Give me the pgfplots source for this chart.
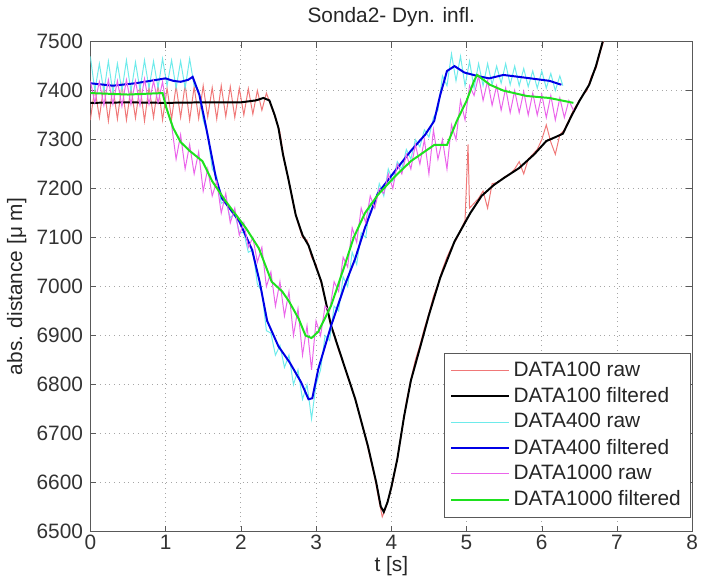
\documentclass[border=0pt]{standalone}
\usepackage{pgfplots}
\pgfplotsset{compat=1.18}
\usepackage{fontspec}
\setmainfont{Liberation Sans}
\definecolor{rawred}{RGB}{240,120,120}
\definecolor{rawcyan}{RGB}{110,235,235}
\definecolor{rawmag}{RGB}{235,100,235}
\definecolor{filgreen}{RGB}{30,225,30}
\definecolor{filblue}{RGB}{0,0,230}
\begin{document}
\fontsize{10.5}{12.5}\selectfont
\begin{tikzpicture}
\begin{axis}[
  scale only axis,
  width=303.5pt, height=247pt,
  xmin=0, xmax=8, ymin=6500, ymax=7500,
  xtick={0,1,...,8}, ytick={6500,6600,...,7500},
  /pgf/number format/assume math mode=true,
  /pgf/number format/1000 sep={},
  ticklabel style={font=\fontsize{10.5}{12.5}\selectfont, text=black!80},
  xticklabel style={yshift=2pt},
  tick align=inside, major tick length=3pt,
  tick style={gray!70!black},
  axis line style={gray!70!black, line width=0.5pt},
  grid=major,
  major grid style={dotted, gray!70, line width=0.4pt},
  title={Sonda2- Dyn. infl.},
  title style={font=\fontsize{10.5}{12.5}\selectfont, text=black!85, yshift=-2pt},
  xlabel={t [s]}, ylabel={abs. distance [μ m]},
  label style={font=\fontsize{10.5}{12.5}\selectfont, text=black!85},
  xlabel style={yshift=4pt}, ylabel style={yshift=-2pt},
  legend style={at={(0.998,0.029)}, anchor=south east, draw=gray!70!black,
    font=\fontsize{10.5}{12.5}\selectfont, text=black!85, row sep=0pt, inner xsep=3pt, inner ysep=2pt},
  legend cell align=left,
  legend image code/.code={\draw[#1] (0pt,0pt) -- (29pt,0pt);},
]
\addplot[rawred, line width=0.5pt] coordinates {
(0.00,7340)(0.06,7405)(0.12,7345)(0.18,7410)(0.24,7338)(0.30,7408)(0.36,7342)(0.42,7412)
(0.48,7340)(0.54,7406)(0.60,7344)(0.66,7410)(0.72,7338)(0.78,7408)(0.84,7345)(0.90,7412)
(0.96,7340)(1.02,7405)(1.08,7342)(1.14,7410)(1.20,7345)(1.26,7412)(1.32,7340)(1.38,7408)
(1.44,7343)(1.50,7410)(1.56,7346)(1.62,7406)(1.68,7342)(1.74,7410)(1.80,7347)(1.86,7408)
(1.92,7345)(1.98,7405)(2.04,7350)(2.10,7404)(2.16,7352)(2.22,7400)(2.28,7360)(2.34,7395)
(2.40,7370)(2.46,7345)(2.52,7315)(2.58,7255)(2.64,7215)(2.70,7165)(2.76,7130)(2.82,7100)
(2.88,7095)(2.94,7060)(3.00,7045)(3.06,7012)(3.12,6975)(3.18,6930)(3.24,6905)(3.30,6870)
(3.36,6845)(3.42,6815)(3.48,6790)(3.54,6760)(3.60,6725)(3.66,6690)(3.72,6650)(3.78,6610)
(3.84,6560)(3.88,6530)(3.92,6545)(3.96,6565)(4.02,6600)(4.08,6650)(4.14,6705)(4.20,6765)
(4.26,6810)(4.32,6850)(4.38,6880)(4.44,6915)(4.50,6945)(4.56,6980)(4.62,7005)(4.68,7035)
(4.74,7060)(4.80,7080)(4.86,7095)(4.92,7115)(4.98,7135)(5.02,7290)(5.04,7160)(5.10,7170)
(5.16,7180)(5.22,7195)(5.28,7160)(5.34,7210)(5.40,7212)(5.46,7218)(5.52,7225)(5.58,7230)
(5.64,7240)(5.70,7255)(5.76,7230)(5.82,7260)(5.88,7270)(5.94,7280)(6.00,7300)(6.06,7330)
(6.12,7295)(6.18,7270)(6.24,7310)(6.30,7320)(6.36,7340)(6.42,7360)(6.48,7375)(6.54,7390)
(6.60,7400)(6.66,7430)(6.72,7445)(6.78,7480)(6.82,7500)
};
\addlegendentry{DATA100 raw}
\addplot[black, line width=1pt] coordinates {
(0,7375)(0.5,7376)(1.0,7375)(1.5,7376)(2.0,7376)(2.2,7380)(2.3,7385)(2.38,7380)(2.45,7350)
(2.5,7324)(2.56,7270)(2.63,7221)(2.73,7146)(2.82,7105)(2.9,7084)(3.0,7040)(3.07,7010)
(3.2,6920)(3.35,6850)(3.52,6771)(3.69,6674)(3.8,6600)(3.86,6551)(3.9,6540)(3.95,6560)
(4.0,6590)(4.08,6648)(4.17,6735)(4.26,6808)(4.39,6880)(4.5,6942)(4.65,7018)(4.84,7092)
(5.05,7150)(5.2,7185)(5.36,7207)(5.5,7222)(5.7,7242)(5.9,7270)(6.06,7297)(6.18,7305)
(6.28,7312)(6.4,7350)(6.5,7379)(6.63,7412)(6.72,7450)(6.81,7500)
};
\addlegendentry{DATA100 filtered}
\addplot[rawcyan, line width=0.5pt] coordinates {
(0.00,7470)(0.06,7400)(0.12,7455)(0.18,7398)(0.24,7460)(0.30,7395)(0.36,7455)(0.42,7400)
(0.48,7462)(0.54,7398)(0.60,7458)(0.66,7402)(0.72,7462)(0.78,7405)(0.84,7460)(0.90,7405)
(0.96,7465)(1.02,7410)(1.08,7462)(1.14,7405)(1.20,7460)(1.26,7405)(1.32,7465)(1.38,7410)
(1.44,7400)(1.50,7340)(1.56,7310)(1.62,7240)(1.68,7225)(1.74,7170)(1.80,7175)(1.86,7140)
(1.92,7150)(1.98,7110)(2.04,7110)(2.10,7070)(2.16,7075)(2.22,7005)(2.28,6990)(2.34,6910)
(2.40,6905)(2.46,6860)(2.52,6880)(2.58,6835)(2.64,6860)(2.70,6800)(2.76,6830)(2.82,6770)
(2.88,6800)(2.94,6730)(3.00,6800)(3.06,6830)(3.12,6900)(3.18,6890)(3.24,6960)(3.30,6950)
(3.36,7020)(3.42,7000)(3.48,7070)(3.54,7045)(3.60,7110)(3.66,7100)(3.72,7170)(3.78,7160)
(3.84,7210)(3.90,7185)(3.96,7240)(4.02,7215)(4.08,7255)(4.14,7240)(4.20,7280)(4.26,7260)
(4.32,7300)(4.38,7285)(4.44,7320)(4.50,7305)(4.56,7345)(4.62,7360)(4.68,7430)(4.74,7410)
(4.80,7475)(4.86,7420)(4.92,7470)(4.98,7410)(5.04,7460)(5.10,7405)(5.16,7455)(5.22,7410)
(5.28,7455)(5.34,7412)(5.40,7450)(5.46,7415)(5.52,7455)(5.58,7412)(5.64,7450)(5.70,7410)
(5.76,7445)(5.82,7408)(5.88,7440)(5.94,7405)(6.00,7440)(6.06,7405)(6.12,7435)(6.18,7400)
(6.24,7430)(6.28,7410)
};
\addlegendentry{DATA400 raw}
\addplot[filblue, line width=1pt] coordinates {
(0,7415)(0.3,7410)(0.6,7415)(0.8,7420)(1.0,7425)(1.1,7420)(1.2,7418)(1.3,7422)(1.36,7428)
(1.45,7391)(1.54,7324)(1.67,7221)(1.75,7180)(1.85,7160)(1.98,7133)(2.15,7075)(2.25,7010)
(2.35,6930)(2.5,6878)(2.65,6845)(2.8,6805)(2.9,6770)(2.95,6772)(3.03,6832)(3.2,6920)
(3.38,7002)(3.52,7057)(3.65,7120)(3.82,7190)(4.08,7242)(4.26,7277)(4.45,7310)(4.57,7338)
(4.65,7391)(4.74,7440)(4.84,7450)(4.97,7437)(5.14,7430)(5.3,7425)(5.49,7432)(5.8,7426)
(6.1,7420)(6.26,7412)
};
\addlegendentry{DATA400 filtered}
\addplot[rawmag, line width=0.5pt] coordinates {
(0.00,7420)(0.06,7375)(0.12,7418)(0.18,7370)(0.24,7422)(0.30,7372)(0.36,7420)(0.42,7368)
(0.48,7422)(0.54,7372)(0.60,7420)(0.66,7370)(0.72,7424)(0.78,7372)(0.84,7420)(0.90,7375)
(0.96,7418)(1.02,7360)(1.08,7330)(1.14,7260)(1.20,7310)(1.26,7240)(1.32,7290)(1.38,7230)
(1.44,7275)(1.50,7195)(1.56,7240)(1.62,7185)(1.68,7215)(1.74,7150)(1.80,7190)(1.86,7130)
(1.92,7160)(1.98,7105)(2.04,7130)(2.10,7080)(2.16,7100)(2.22,7050)(2.28,7080)(2.34,7000)
(2.40,7030)(2.46,6960)(2.52,7010)(2.58,6940)(2.64,6990)(2.70,6900)(2.76,6955)(2.82,6860)
(2.88,6920)(2.94,6830)(3.00,6930)(3.06,6900)(3.12,6960)(3.18,6950)(3.24,7010)(3.30,6990)
(3.36,7060)(3.42,7040)(3.48,7120)(3.54,7090)(3.60,7160)(3.66,7130)(3.72,7185)(3.78,7160)
(3.84,7200)(3.90,7190)(3.96,7230)(4.02,7200)(4.08,7250)(4.14,7230)(4.20,7270)(4.26,7240)
(4.32,7290)(4.38,7250)(4.44,7300)(4.50,7230)(4.56,7320)(4.62,7260)(4.68,7300)(4.74,7240)
(4.80,7330)(4.86,7300)(4.92,7380)(4.98,7340)(5.04,7410)(5.10,7390)(5.16,7430)(5.22,7380)
(5.28,7420)(5.34,7370)(5.40,7410)(5.46,7360)(5.52,7405)(5.58,7355)(5.64,7400)(5.70,7355)
(5.76,7398)(5.82,7350)(5.88,7395)(5.94,7350)(6.00,7392)(6.06,7345)(6.12,7390)(6.18,7340)
(6.24,7385)(6.30,7345)(6.36,7380)(6.42,7360)
};
\addlegendentry{DATA1000 raw}
\addplot[filgreen, line width=1pt] coordinates {
(0,7395)(0.5,7392)(0.96,7395)(1.01,7365)(1.1,7324)(1.2,7295)(1.32,7277)(1.49,7256)
(1.62,7215)(1.8,7174)(2.07,7119)(2.24,7078)(2.41,7010)(2.55,6990)(2.64,6970)(2.77,6934)
(2.86,6900)(2.94,6895)(3.03,6908)(3.2,6961)(3.38,7043)(3.5,7100)(3.65,7150)(3.82,7187)
(4.05,7225)(4.26,7256)(4.57,7289)(4.74,7289)(4.87,7338)(5.0,7379)(5.1,7420)(5.14,7432)
(5.31,7412)(5.49,7400)(5.8,7389)(6.1,7385)(6.42,7375)
};
\addlegendentry{DATA1000 filtered}
\end{axis}
\end{tikzpicture}
\end{document}
